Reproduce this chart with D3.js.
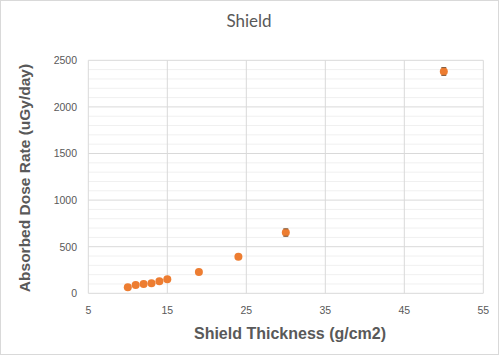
<!DOCTYPE html>
<html><head><meta charset="utf-8">
<script src="https://cdn.jsdelivr.net/npm/d3@7"></script>
<style>body{margin:0;background:#fff}svg{display:block}</style>
</head><body>
<script>
const thickness = [10, 11, 12, 13, 14, 15, 19, 24, 30, 50];
const doseRate = [65, 90, 101, 109, 130, 152, 228, 391, 652, 2380];
const errorBars = [0, 0, 0, 0, 0, 0, 0, 0, 40, 42];
const xTicks = [5, 15, 25, 35, 45, 55];
const yTicks = [0, 500, 1000, 1500, 2000, 2500];
const yMinor = d3.range(0, 2501, 100);

const W = 499, H = 355;
const svg = d3.select("body").append("svg").attr("width", W).attr("height", H);
svg.append("rect").attr("x", 0.5).attr("y", 0.5).attr("width", W - 1).attr("height", H - 1)
  .attr("fill", "#fff").attr("stroke", "#d9d9d9");

const x = d3.scaleLinear().domain([5, 55]).range([88.3, 483.3]);
const y = d3.scaleLinear().domain([0, 2500]).range([293.3, 60.3]);

const g = svg.append("g");
g.selectAll(".minor").data(yMinor.filter(v => v % 500 !== 0)).join("line")
  .attr("x1", x(5)).attr("x2", x(55)).attr("y1", d => y(d)).attr("y2", d => y(d))
  .attr("stroke", "#f0f0f0").attr("stroke-width", 1);
g.selectAll(".majy").data(yTicks).join("line")
  .attr("x1", x(5)).attr("x2", x(55)).attr("y1", d => y(d)).attr("y2", d => y(d))
  .attr("stroke", "#d9d9d9").attr("stroke-width", 1);
g.selectAll(".majx").data(xTicks).join("line")
  .attr("x1", d => x(d)).attr("x2", d => x(d)).attr("y1", y(0)).attr("y2", y(2500))
  .attr("stroke", "#d9d9d9").attr("stroke-width", 1);

const tickFont = "'Liberation Sans', Arial, sans-serif";
svg.selectAll(".yt").data(yTicks).join("text")
  .attr("x", 77).attr("y", d => y(d) + 3.8).attr("text-anchor", "end")
  .attr("font-family", tickFont).attr("font-size", 10.5).attr("fill", "#595959").text(d => d);
svg.selectAll(".xt").data(xTicks).join("text")
  .attr("x", d => x(d)).attr("y", 313.5).attr("text-anchor", "middle")
  .attr("font-family", tickFont).attr("font-size", 10.5).attr("fill", "#595959").text(d => d);

const pts = thickness.map((t, i) => ({t, v: doseRate[i], e: errorBars[i]}));
svg.selectAll(".pt").data(pts).join("circle")
  .attr("cx", p => x(p.t)).attr("cy", p => y(p.v)).attr("r", 4).attr("fill", "#ED7D31");
svg.selectAll(".err").data(pts.filter(p => p.e > 0)).join("g").each(function(p) {
  const s = d3.select(this);
  s.append("line").attr("x1", x(p.t)).attr("x2", x(p.t)).attr("y1", y(p.v - p.e)).attr("y2", y(p.v + p.e))
    .attr("stroke", "#ED7D31").attr("stroke-width", 1);
  [p.v - p.e, p.v + p.e].forEach(v => s.append("line").attr("x1", x(p.t) - 2.5).attr("x2", x(p.t) + 2.5)
    .attr("y1", y(v)).attr("y2", y(v)).attr("stroke", "#7f5a3c").attr("stroke-width", 1));
});

svg.append("text").attr("x", 249).attr("y", 27).attr("text-anchor", "middle")
  .attr("font-family", "Lato, 'Open Sans', sans-serif").attr("font-size", 17).attr("fill", "#595959").text("Shield");
svg.append("text").attr("x", 290).attr("y", 339).attr("text-anchor", "middle")
  .attr("font-family", "Arial, 'Liberation Sans', sans-serif").attr("font-weight", "bold")
  .attr("font-size", 16).attr("fill", "#595959").text("Shield Thickness (g/cm2)");
svg.append("text").attr("transform", "translate(30,178) rotate(-90)").attr("text-anchor", "middle")
  .attr("font-family", "Arial, 'Liberation Sans', sans-serif").attr("font-weight", "bold")
  .attr("font-size", 15.5).attr("fill", "#595959").text("Absorbed Dose Rate (uGy/day)");
</script>
</body></html>
